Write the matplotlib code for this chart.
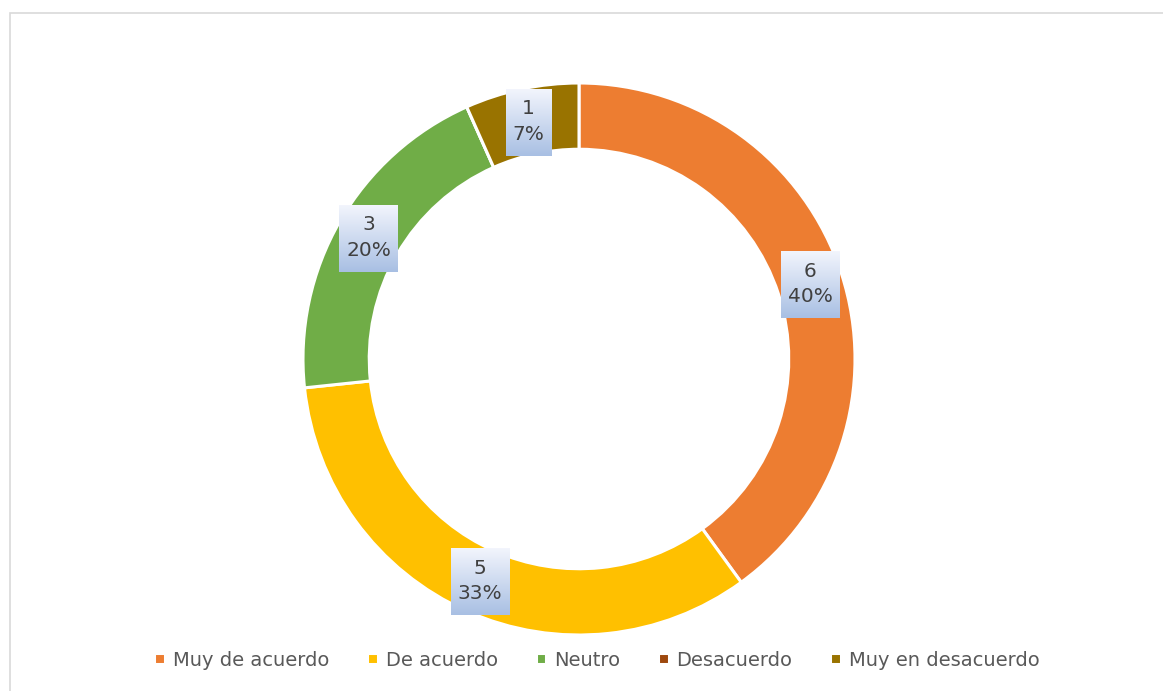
import numpy as np
import matplotlib
matplotlib.use('Agg')
import matplotlib.pyplot as plt
from matplotlib.patches import Rectangle

categorias = ['Muy de acuerdo', 'De acuerdo', 'Neutro', 'Desacuerdo', 'Muy en desacuerdo']
valores = [6, 5, 3, 0, 1]
colores = ['#ED7D31', '#FFC000', '#70AD47', '#9E480E', '#997300']

W, H = 1163, 691
fig = plt.figure(figsize=(W/100, H/100), dpi=100)
fig.patch.set_facecolor('white')

# marco gris claro del grafico
fig.patches.append(Rectangle((9.5/W, -0.1), 1.2, 1 - 12.5/H + 0.1, transform=fig.transFigure,
                             fill=False, edgecolor='#D9D9D9', lw=1.2))

# donut: centro (579, 359) px, radio 276 px
cx, cy, R = 579, 359, 276
ax = fig.add_axes([(cx - R)/W, (H - cy - R)/H, 2*R/W, 2*R/H])
wedges, _ = ax.pie(valores, colors=colores, startangle=90, counterclock=False,
                   radius=1, wedgeprops=dict(width=0.24, edgecolor='white', linewidth=2.2))
ax.set_xlim(-1, 1)
ax.set_ylim(-1, 1)
ax.set_aspect('auto')
ax.axis('off')

total = sum(valores)
textos = []
for w, v in zip(wedges, valores):
    if v == 0:
        continue
    ang = np.deg2rad((w.theta1 + w.theta2) / 2)
    r = 0.88
    t = ax.text(r*np.cos(ang), r*np.sin(ang), f"{v}\n{round(100*v/total)}%",
                ha='center', va='center', fontsize=14.5, color='#404040',
                linespacing=1.45, zorder=5)
    textos.append(t)

fig.canvas.draw()
rend = fig.canvas.get_renderer()
grad = np.linspace(0, 1, 100)[:, None]
top = np.array([0.95, 0.96, 0.99])
bot = np.array([0.66, 0.75, 0.89])
img = (top[None, None, :] * (1 - grad[..., None]) + bot[None, None, :] * grad[..., None])
img = np.repeat(img, 2, axis=1)
inv = ax.transData.inverted()
for t in textos:
    bb = t.get_window_extent(rend)
    (x0, y0) = inv.transform((bb.x0 - 7, bb.y0 - 12))
    (x1, y1) = inv.transform((bb.x1 + 7, bb.y1 + 10))
    ax.imshow(img, extent=[x0, x1, y0, y1], aspect='auto', zorder=4, interpolation='bilinear')
ax.set_xlim(-1, 1)
ax.set_ylim(-1, 1)

fig.legend(wedges, categorias, loc='center', bbox_to_anchor=(597/W, 1 - 660/H), ncol=5,
           frameon=False, fontsize=14, labelcolor='#595959', handlelength=0.55,
           handleheight=0.55, handletextpad=0.4, columnspacing=1.95)

fig.savefig('out.png', dpi=100)
